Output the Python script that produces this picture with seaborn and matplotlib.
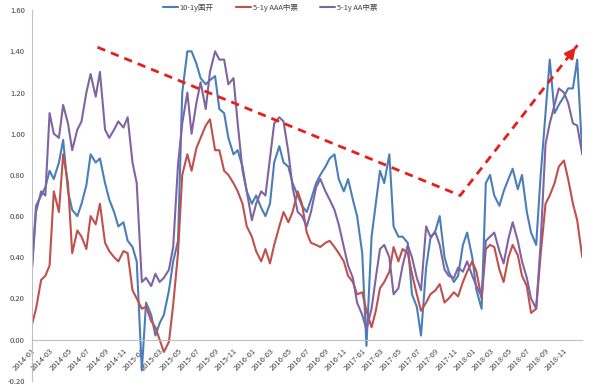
import pandas as pd
import seaborn as sns
import matplotlib.pyplot as plt
import matplotlib.dates as mdates
from matplotlib.ticker import FormatStrFormatter

# semi-monthly readings, 2014-01 .. 2019-01
dates = pd.date_range("2014-01-01", periods=121, freq="SMS")
series_names = ["10-1y国开", "5-1y AAA中票", "5-1y AA中票"]
colors = ["#4a7ebb", "#c0504d", "#8064a2"]

cdb_10_1 = [
    0.34, 0.65, 0.70, 0.74, 0.82, 0.78, 0.86, 0.97, 0.72, 0.63, 0.60, 0.66,
    0.75, 0.90, 0.86, 0.88, 0.76, 0.68, 0.62, 0.55, 0.57, 0.48, 0.45, 0.38,
    -0.15, 0.18, 0.12, 0.02, 0.08, 0.12, 0.24, 0.38, 0.48, 1.20, 1.40, 1.40,
    1.34, 1.27, 1.24, 1.26, 1.28, 1.12, 1.10, 0.98, 0.90, 0.92, 0.84, 0.72,
    0.66, 0.70, 0.64, 0.60, 0.66, 0.86, 0.94, 0.86, 0.84, 0.76, 0.70, 0.65,
    0.62, 0.68, 0.76, 0.80, 0.84, 0.88, 0.90, 0.78, 0.72, 0.78, 0.68, 0.60,
    0.42, -0.03, 0.50, 0.66, 0.82, 0.76, 0.90, 0.55, 0.50, 0.50, 0.47, 0.22,
    0.16, 0.02, 0.35, 0.49, 0.53, 0.60, 0.40, 0.33, 0.28, 0.31, 0.46, 0.52,
    0.40, 0.24, 0.15, 0.76, 0.80, 0.70, 0.65, 0.72, 0.78, 0.83, 0.73, 0.80,
    0.62, 0.52, 0.46, 0.78, 1.10, 1.36, 1.10, 1.14, 1.18, 1.22, 1.22, 1.36,
    0.90,
]
aaa_5_1 = [
    0.07, 0.15, 0.29, 0.31, 0.36, 0.72, 0.62, 0.90, 0.76, 0.42, 0.53, 0.50,
    0.44, 0.60, 0.56, 0.66, 0.47, 0.43, 0.40, 0.38, 0.43, 0.42, 0.24, 0.20,
    0.15, 0.16, 0.09, 0.06, 0.00, -0.06, -0.01, 0.17, 0.42, 0.80, 0.90, 0.82,
    0.93, 0.98, 1.04, 1.07, 0.92, 0.92, 0.82, 0.80, 0.76, 0.72, 0.66, 0.55,
    0.50, 0.43, 0.38, 0.44, 0.37, 0.46, 0.55, 0.62, 0.57, 0.62, 0.72, 0.66,
    0.52, 0.47, 0.46, 0.45, 0.47, 0.48, 0.45, 0.42, 0.38, 0.31, 0.28, 0.22,
    0.23, 0.14, 0.06, 0.14, 0.25, 0.28, 0.33, 0.45, 0.38, 0.44, 0.42, 0.32,
    0.22, 0.14, 0.18, 0.22, 0.24, 0.27, 0.18, 0.20, 0.23, 0.21, 0.28, 0.33,
    0.38, 0.33, 0.20, 0.44, 0.46, 0.45, 0.34, 0.28, 0.40, 0.46, 0.41, 0.31,
    0.26, 0.13, 0.15, 0.40, 0.66, 0.70, 0.76, 0.84, 0.87, 0.78, 0.66, 0.58,
    0.40,
]
aa_5_1 = [
    0.33, 0.62, 0.72, 0.70, 1.10, 1.00, 0.98, 1.14, 1.05, 0.92, 1.02, 1.06,
    1.20, 1.29, 1.18, 1.30, 1.02, 0.98, 1.02, 1.06, 1.03, 1.08, 0.86, 0.76,
    0.28, 0.30, 0.26, 0.32, 0.28, 0.30, 0.34, 0.45, 0.85, 1.05, 1.20, 1.00,
    1.15, 1.25, 1.12, 1.30, 1.40, 1.36, 1.36, 1.24, 1.27, 1.05, 0.82, 0.72,
    0.58, 0.66, 0.72, 0.70, 0.88, 1.05, 1.08, 1.06, 0.91, 0.74, 0.62, 0.60,
    0.55, 0.62, 0.74, 0.78, 0.72, 0.68, 0.63, 0.56, 0.45, 0.36, 0.30, 0.18,
    0.12, 0.05, 0.15, 0.30, 0.44, 0.46, 0.40, 0.22, 0.25, 0.36, 0.46, 0.40,
    0.30, 0.24, 0.55, 0.50, 0.52, 0.46, 0.34, 0.31, 0.30, 0.35, 0.33, 0.38,
    0.31, 0.26, 0.21, 0.48, 0.50, 0.52, 0.43, 0.37, 0.49, 0.57, 0.48, 0.38,
    0.30, 0.20, 0.15, 0.45, 0.95, 1.05, 1.14, 1.22, 1.20, 1.15, 1.05, 1.04,
    0.90,
]

# red dashed trend arrows (start, bottom of the V, tip)
trend_dates = pd.to_datetime(["2014-08-07", "2017-11-22", "2018-12-16"])
trend_values = [1.42, 0.70, 1.43]

# x tick positions (every two months)
tick_dates = pd.date_range("2014-01-01", "2018-11-01", freq="2MS")
tick_labels = [d.strftime("%Y-%m") for d in tick_dates]

sns.set_theme(style="white")
plt.rcParams["font.family"] = ["Noto Sans CJK SC", "DejaVu Sans"]
plt.rcParams["axes.unicode_minus"] = False

df = pd.DataFrame({"date": dates,
                   series_names[0]: cdb_10_1,
                   series_names[1]: aaa_5_1,
                   series_names[2]: aa_5_1})
long_df = df.melt(id_vars="date", var_name="series", value_name="value")

fig = plt.figure(figsize=(6, 3.91), dpi=100)
ax = fig.add_axes([0.053, 0.026, 0.917, 0.948])
sns.lineplot(data=long_df, x="date", y="value", hue="series",
             hue_order=series_names, palette=colors, linewidth=1.5, ax=ax)

# spines first (moving a spine resets the ticks)
ax.spines["top"].set_visible(False)
ax.spines["right"].set_visible(False)
ax.spines["bottom"].set_position(("data", 0))
for s in ["left", "bottom"]:
    ax.spines[s].set_color("#bfbfbf")
    ax.spines[s].set_linewidth(0.8)

# trend arrows
red = "#e3201b"
ax.plot(trend_dates, trend_values, color=red, lw=2, ls=(0, (3, 2.2)))
x1, x2 = mdates.date2num(trend_dates[1]), mdates.date2num(trend_dates[2])
y1, y2 = trend_values[1], trend_values[2]
ax.annotate("", xy=(x2, y2), xytext=(x2 - 0.06 * (x2 - x1), y2 - 0.06 * (y2 - y1)),
            arrowprops=dict(arrowstyle="-|>,head_length=0.5,head_width=0.25",
                            color=red, lw=2))

# axes
ax.tick_params(axis="both", which="major", direction="out", length=3,
               width=0.6, color="#bfbfbf", labelsize=5.5, labelcolor="#404040", pad=2)
ax.set_ylim(-0.2, 1.6)
ax.set_xlim(pd.Timestamp("2014-01-01"), pd.Timestamp("2018-12-31"))
ax.set_yticks([-0.2, 0, 0.2, 0.4, 0.6, 0.8, 1.0, 1.2, 1.4, 1.6])
ax.yaxis.set_major_formatter(FormatStrFormatter("%.2f"))
ax.set_xticks(tick_dates)
ax.set_xticklabels(tick_labels, rotation=45, ha="right", rotation_mode="anchor",
                   fontsize=5.5, color="#404040")
ax.set_xlabel("")
ax.set_ylabel("")

handles, labels = ax.get_legend_handles_labels()
ax.legend(handles[:3], labels[:3], loc="upper center", bbox_to_anchor=(0.433, 1.035),
          ncol=3, frameon=False, fontsize=5.4, handlelength=2.0,
          columnspacing=3.0, handletextpad=0.2, labelcolor="#404040")

plt.savefig("out.png", dpi=100)
